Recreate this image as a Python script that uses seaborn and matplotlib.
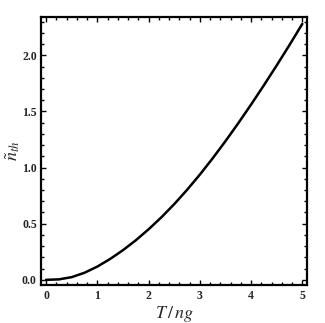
import matplotlib
matplotlib.use("Agg")
import matplotlib.pyplot as plt
import seaborn as sns
import pandas as pd
from matplotlib.ticker import MultipleLocator

# values
t_vals = [0.0, 0.25, 0.5, 0.75, 1.0, 1.25, 1.5, 1.75, 2.0, 2.25, 2.5,
          2.75, 3.0, 3.25, 3.5, 3.75, 4.0, 4.25, 4.5, 4.75, 5.0]
n_th = [0.0, 0.004, 0.024, 0.063, 0.118, 0.186, 0.264, 0.352, 0.450, 0.557, 0.674,
        0.801, 0.937, 1.082, 1.235, 1.395, 1.561, 1.733, 1.910, 2.092, 2.280]
x_ticks = [0, 1, 2, 3, 4, 5]
y_ticks = [0.0, 0.5, 1.0, 1.5, 2.0]

df = pd.DataFrame({"T": t_vals, "n": n_th})

sns.set_style("ticks")
plt.rcParams["font.family"] = ["Liberation Serif", "DejaVu Serif"]
plt.rcParams["mathtext.fontset"] = "stix"

fig = plt.figure(figsize=(3.25, 3.23), dpi=100)
ax = fig.add_axes([0.126, 0.118, 0.82, 0.829])

sns.lineplot(data=df, x="T", y="n", color="black", linewidth=1.8, ax=ax)

ax.set_xlim(-0.1, 5.1)
ax.set_ylim(-0.045, 2.34)
ax.set_xticks(x_ticks)
ax.set_yticks(y_ticks)
ax.set_xticklabels([str(v) for v in x_ticks])
ax.set_yticklabels([f"{v:.1f}" for v in y_ticks])
ax.xaxis.set_minor_locator(MultipleLocator(0.2))
ax.yaxis.set_minor_locator(MultipleLocator(0.1))

ax.tick_params(which="both", direction="in", top=True, right=True,
               labelsize=8.5, color="black", width=1.0)
ax.tick_params(axis="x", pad=4)
ax.tick_params(axis="y", pad=3)
ax.tick_params(which="major", length=3.5)
ax.tick_params(which="minor", length=2)
for lab in ax.get_xticklabels() + ax.get_yticklabels():
    lab.set_fontweight("bold")

for s in ax.spines.values():
    s.set_linewidth(1.6)
    s.set_color("black")

ax.set_xlabel(r"$T\,/\,ng$", fontsize=13, labelpad=1)
ax.set_ylabel(r"$\tilde{n}_{th}$", fontsize=13)
ax.yaxis.set_label_coords(-0.07, 0.5)

fig.savefig("out.png", dpi=100)
